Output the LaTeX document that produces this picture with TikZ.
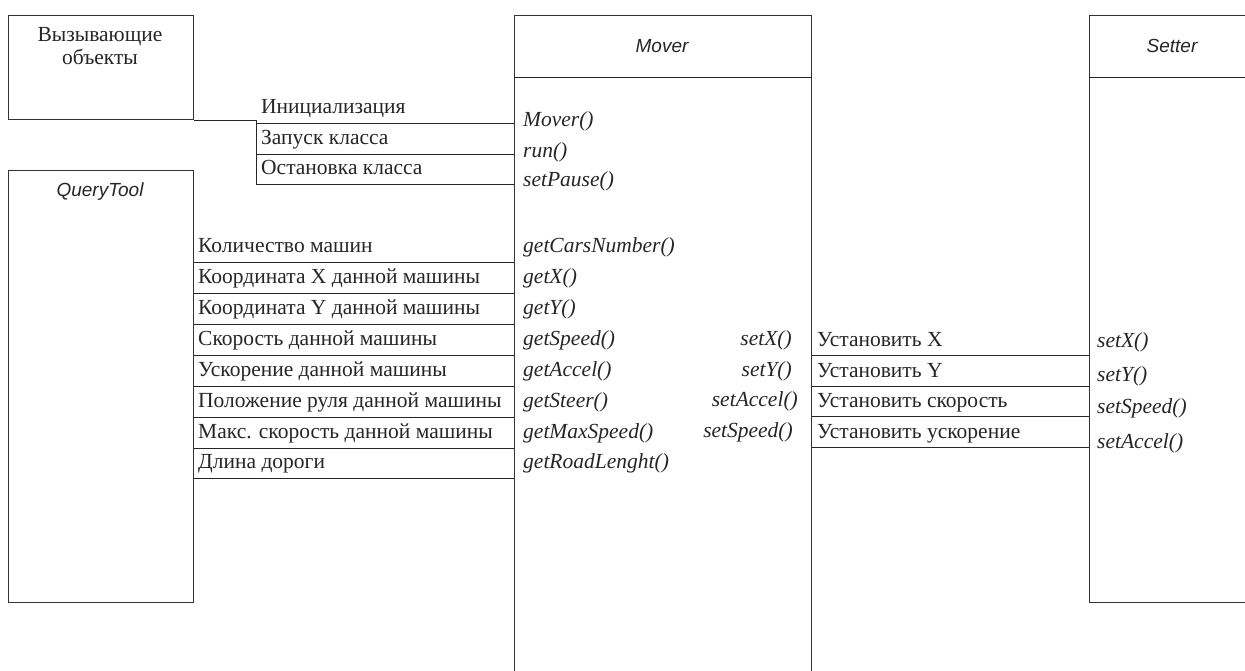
\documentclass[tikz,border=0pt]{standalone}
\usepackage{fontspec}
\setmainfont{Liberation Serif}
\newfontfamily\titlefont{Liberation Sans}
\begin{document}
\begin{tikzpicture}[x=1pt,y=-1pt,
  box/.style={draw=black!80,line width=1.1pt,fill=white,inner sep=0pt,anchor=north west},
  wire/.style={draw=black!85,line width=1pt},
  lbl/.style={inner sep=0pt,anchor=base west,text=black!85,font=\fontsize{21.5}{25}\selectfont},
  meth/.style={inner sep=0pt,text=black!85,font=\fontsize{21.5}{25}\selectfont\itshape},
  ttl/.style={inner sep=0pt,text=black!85,font=\titlefont\itshape\fontsize{19}{23}\selectfont}]
\useasboundingbox (0,0) rectangle (1245,670);
\clip (0,0) rectangle (1245,670);
\fill[white] (0,0) rectangle (1245,670);
% boxes
\node[box,minimum width=185pt,minimum height=104pt] (caller) at (8,15) {};
\node[box,minimum width=185pt,minimum height=432pt] (qt) at (8,170) {};
\node[box,minimum width=297pt,minimum height=700pt] (mover) at (514,15) {};
\node[box,minimum width=200pt,minimum height=587pt] (setter) at (1089,15) {};
\coordinate (hd) at (0,77);
\draw[wire] (mover.west |- hd) -- (mover.east |- hd);
\draw[wire] (setter.west |- hd) -- (setter.east |- hd);
% titles
\node[lbl,anchor=base] (callert) at (100,41) {Вызывающие};
\node[lbl,anchor=base] (callert2) at (100,64) {объекты};
\node[ttl,anchor=base] (movert) at (662,52) {Mover};
\node[ttl,anchor=base] (settert) at (1172,52) {Setter};
\node[ttl,anchor=base] (qtt) at (100,196) {QueryTool};
% caller connectors
\coordinate (j) at (256,184);
\draw[wire] (caller.south east) -| (j);
\foreach \y/\t/\m/\my [count=\i] in {123/Инициализация/Mover()/126, 154/Запуск класса/run()/157, 184/Остановка класса/setPause()/186}{
  \coordinate (t\i) at (0,\y);
  \draw[wire] (j |- t\i) -- (mover.west |- t\i);
  \node[lbl] (tl\i) at (261,\y-10) {\t};
  \node[meth,anchor=base west] (tm\i) at (523,\my) {\m};
}
% query connectors
\foreach \y/\t/\m [count=\i] in {262/Количество машин/getCarsNumber(), 293/Координата X данной машины/getX(), 324/Координата Y данной машины/getY(), 355/Скорость данной машины/getSpeed(), 386/Ускорение данной машины/getAccel(), 417/Положение руля данной машины/getSteer(), 448/Макс. скорость данной машины/getMaxSpeed(), 478/Длина дороги/getRoadLenght()}{
  \coordinate (q\i) at (0,\y);
  \draw[wire] (qt.east |- q\i) -- (mover.west |- q\i);
  \node[lbl] (ql\i) at (198,\y-10) {\t};
  \node[meth,anchor=base west] (qm\i) at (523,\y-10) {\m};
}
% setter connectors
\foreach \y/\t/\m/\rx/\n/\sb [count=\i] in {355/Установить X/setX()/792/setX()/347, 386/Установить Y/setY()/792/setY()/381, 416/Установить скорость/setAccel()/798/setSpeed()/413, 447/Установить ускорение/setSpeed()/793/setAccel()/448}{
  \coordinate (s\i) at (0,\y);
  \draw[wire] (mover.east |- s\i) -- (setter.west |- s\i);
  \node[lbl] (sl\i) at (817,\y-9) {\t};
  \node[meth,anchor=base east] (sm\i) at (\rx,\y-10) {\m};
  \node[meth,anchor=base west] (sr\i) at (1097,\sb) {\n};
}
\end{tikzpicture}
\end{document}
